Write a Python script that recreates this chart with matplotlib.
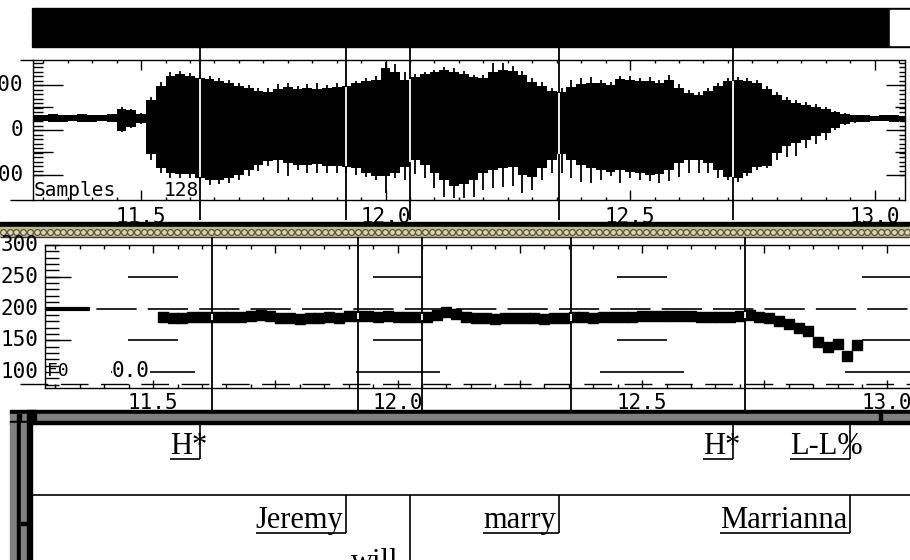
import matplotlib
matplotlib.use("Agg")
import matplotlib.pyplot as plt
import numpy as np
from matplotlib.patches import Rectangle
from matplotlib.ticker import MultipleLocator, FormatStrFormatter, FuncFormatter

plt.rcParams["font.family"] = ["DejaVu Sans Mono"]
plt.rcParams["lines.scale_dashes"] = False

# waveform envelope, one value every 20 ms from 11.28 s
# (peak = tip of the pulses, body = solid part; units above / below the zero line)
wave_t0 = 11.28
wave_step = 0.02
env_top = [3, 3, 4, 3, 3, 4, 3, 3, 4,
           11, 9, 5,
           21, 36, 46, 47, 45, 43, 42, 40, 38, 35,
           33, 30, 30, 34, 35, 32, 34, 35, 33, 35,
           35, 37, 40, 42, 56, 54, 46, 44, 46, 48,
           51, 50, 47, 43, 43, 55, 55, 52, 47, 40,
           36, 30, 30, 38, 40, 41, 38, 36, 42, 42,
           40, 41, 38, 43, 34, 28, 26, 30, 35, 40,
           41, 40, 38, 32, 26, 21, 18, 16, 14, 11,
           7, 5, 3, 3, 2, 3, 3, 2]
env_top_body = [3, 3, 4, 3, 3, 4, 3, 3, 4,
                9, 8, 4,
                18, 32, 42, 44, 42, 40, 39, 37, 35, 32,
                30, 27, 26, 29, 31, 29, 30, 29, 30, 31,
                32, 35, 37, 38, 50, 46, 38, 41, 44, 46,
                48, 46, 44, 41, 40, 46, 48, 47, 43, 36,
                32, 27, 26, 31, 34, 35, 35, 33, 39, 38,
                37, 37, 35, 38, 30, 25, 23, 27, 32, 37,
                38, 37, 35, 29, 23, 18, 15, 13, 11, 9,
                6, 4, 3, 3, 2, 3, 3, 2]
env_bot = [4, 3, 4, 4, 3, 4, 4, 3, 4,
           14, 10, 6,
           42, 55, 60, 60, 60, 64, 67, 66, 65, 62,
           58, 53, 48, 55, 58, 52, 55, 55, 55, 55,
           55, 57, 59, 62, 75, 60, 62, 56, 60, 70,
           79, 80, 80, 79, 72, 70, 69, 68, 75, 72,
           62, 55, 55, 60, 64, 65, 62, 58, 65, 60,
           62, 63, 65, 63, 59, 55, 55, 55, 60, 62,
           64, 58, 52, 50, 42, 39, 38, 30, 26, 22,
           12, 7, 5, 4, 3, 3, 4, 3]
env_bot_body = [4, 3, 4, 4, 3, 4, 4, 3, 4,
                13, 9, 5,
                36, 50, 55, 56, 56, 60, 62, 62, 60, 57,
                52, 47, 43, 42, 45, 47, 47, 46, 48, 48,
                49, 50, 55, 58, 58, 55, 49, 42, 47, 55,
                62, 68, 66, 62, 55, 52, 50, 49, 57, 59,
                50, 42, 36, 42, 47, 50, 52, 54, 52, 54,
                55, 57, 56, 52, 45, 42, 42, 45, 52, 59,
                60, 55, 49, 48, 35, 28, 25, 22, 18, 15,
                10, 6, 4, 4, 3, 3, 4, 3]
amp_ticks = [33, -12, -57]
amp_labels = ["1000", "0", "-1000"]

# pitch track in Hz, one frame every 20 ms from 11.52 s
f0_t0 = 11.52
f0_step = 0.02
f0_hz = [186, 185, 185, 186, 187, 187, 186, 187, 187, 188,
         190, 189,
         185, 185, 184, 185, 185, 186, 185,
         188, 188, 188, 187, 188,
         187, 187, 186, 187, 190,
         194, 192,
         186, 185, 185, 184, 185, 185, 185, 185, 184, 185, 185, 186, 186, 185,
         187, 187, 187, 186,
         188, 188, 189, 188, 188, 188,
         187, 187, 187, 187,
         189, 190,
         187, 185,
         181, 175, 169, 164, 147, 139, 145, 125, 142]
f0_labels = [100, 150, 200, 250, 300]

# ToBI transcription
tone_times = [11.62, 12.71, 12.95]
tone_labels = ["H*", "H*", "L-L%"]
word_times = [11.92, 12.05, 12.355, 12.95]
word_labels = ["Jeremy", "will", "marry", "Marrianna"]
word_rows = [0, 1, 0, 0]
cursor_times = [11.62, 11.92, 12.05, 12.355, 12.71]
time_labels = [11.5, 12.0, 12.5, 13.0]

W, H = 910, 560
PX_PER_S = 489.0
T_LEFT = 11.279
SERIF = ["Liberation Serif", "DejaVu Serif"]
GRAY = "#808080"

fig = plt.figure(figsize=(W / 100, H / 100), dpi=100)


def panel(x0, y0, x1, y1):
    return fig.add_axes([x0 / W, 1 - y1 / H, (x1 - x0) / W, (y1 - y0) / H])


def side_ticks(ax, ys, length, side="left", lw=1.0):
    w = ax.get_position().width * W
    f = length / w
    x0, x1 = (0, f) if side == "left" else (1 - f, 1)
    ax.hlines(ys, x0, x1, transform=ax.get_yaxis_transform(), color="k",
              lw=lw, clip_on=False)


# window furniture
bg = fig.add_axes([0, 0, 1, 1])
bg.set_xlim(0, W)
bg.set_ylim(H, 0)
bg.axis("off")
bg.add_patch(Rectangle((32, 8), 880, 39, color="black"))
bg.add_patch(Rectangle((890, 10), 22, 35, color="white"))
bg.hlines(60, 20, 33, color="k", lw=1)
bg.hlines(200, 10, 33, color="k", lw=1)
# separator between waveform and pitch windows
bg.add_patch(Rectangle((0, 222), W, 5, color="black"))
bg.add_patch(Rectangle((0, 227), W, 9, color="#c2b991"))
bg.plot(np.arange(3, W, 6.7), np.full(len(np.arange(3, W, 6.7)), 231.5), "o",
        ms=4.2, mfc="#ddd6ba", mec="#5c563a", mew=0.9)
bg.hlines(236.5, 0, W, color="#3a3a3a", lw=1)
# label window frame
bg.add_patch(Rectangle((10, 410), 900, 4, color="black"))
bg.add_patch(Rectangle((10, 414), 900, 7, color=GRAY))
bg.add_patch(Rectangle((10, 421), 900, 2.5, color="black"))
bg.add_patch(Rectangle((32, 410), 4, 13, color="black"))
bg.add_patch(Rectangle((879, 410), 3, 13, color="black"))
bg.add_patch(Rectangle((10, 423), 7, 137, color=GRAY))
bg.add_patch(Rectangle((17, 414), 4, 146, color="black"))
bg.add_patch(Rectangle((21, 423), 6, 137, color=GRAY))
bg.add_patch(Rectangle((21, 522), 6, 3, color="black"))
bg.add_patch(Rectangle((27, 410), 5, 150, color="black"))
bg.text(34, 196, "Samples", fontsize=14, va="baseline", ha="left")
bg.text(199, 196, "128", fontsize=14, va="baseline", ha="right")

# waveform
aw = panel(33, 60, 905, 200)
aw.patch.set_alpha(0)
aw.set_xlim(T_LEFT, T_LEFT + 872 / PX_PER_S)
aw.set_ylim(-82, 58)
wt = wave_t0 + wave_step * np.arange(len(env_top))
aw.fill_between(wt, -np.array(env_bot_body), env_top_body, step="mid",
                color="black", lw=0)
aw.vlines(wt, -np.array(env_bot), env_top, color="black", lw=1.3)
aw.xaxis.set_major_locator(MultipleLocator(0.5))
aw.xaxis.set_minor_locator(MultipleLocator(0.05))
aw.xaxis.set_major_formatter(FormatStrFormatter("%.1f"))
aw.tick_params(axis="x", which="both", direction="in", top=True, bottom=True,
               width=1, labelsize=15, pad=5)
aw.tick_params(axis="x", which="major", length=7)
aw.tick_params(axis="x", which="minor", length=2.5)
aw.set_yticks([])
for s in aw.spines.values():
    s.set_linewidth(1.0)
side_ticks(aw, np.arange(-57, 57, 4.5), 10)
side_ticks(aw, [11, -34], 20)
side_ticks(aw, amp_ticks, 30)
side_ticks(aw, np.arange(-57, 57, 4.5), 6, "right")
side_ticks(aw, [11, -34], 10, "right")
side_ticks(aw, amp_ticks, 19, "right")
for y, lab in zip(amp_ticks, amp_labels):
    aw.text(-10 / 872, y, lab, transform=aw.get_yaxis_transform(), ha="right",
            va="center", fontsize=15)
aw.vlines(cursor_times, -20 / 140, 153 / 140, transform=aw.get_xaxis_transform(),
          color="k", lw=1.3, clip_on=False)
aw.vlines(cursor_times, -np.interp(cursor_times, wt, env_bot_body) + 1,
          np.interp(cursor_times, wt, env_top_body) - 1, color="white", lw=1.3)

# pitch track
af = panel(45, 245, 917, 388)
af.patch.set_alpha(0)
af.set_xlim(T_LEFT, T_LEFT + 872 / PX_PER_S)
af.set_ylim(75, 300)
af.spines["right"].set_visible(False)
for s in af.spines.values():
    s.set_linewidth(1.0)
af.xaxis.set_major_locator(MultipleLocator(0.25))
af.xaxis.set_minor_locator(MultipleLocator(0.05))
af.xaxis.set_major_formatter(
    FuncFormatter(lambda v, p: f"{v:.1f}" if abs(v * 2 - round(v * 2)) < 1e-6 else ""))
af.tick_params(axis="x", which="both", direction="in", top=True, bottom=True,
               width=1, labelsize=15, pad=3.5)
af.tick_params(axis="x", which="major", length=6)
af.tick_params(axis="x", which="minor", length=3)
af.set_yticks([])
side_ticks(af, np.arange(80, 301, 10), 14)
side_ticks(af, [150, 250], 26)
for hz in f0_labels:
    af.text(-7 / 872, hz, str(hz), transform=af.get_yaxis_transform(), ha="right",
            va="center", fontsize=15)
af.axhline(200, color="k", lw=1.2, ls=(0, (29, 8)))
af.axhline(200, xmin=0, xmax=43 / 872, color="k", lw=3)
af.axhline(81, xmin=-25 / 872, xmax=1, color="k", lw=1, ls=(0, (20, 9)), clip_on=False)
for t in time_labels:
    af.hlines([250, 150], t - 0.051, t + 0.051, color="k", lw=1.2)
    af.hlines(100, t - 0.086, t + 0.086, color="k", lw=1.2)
af.text(11.416, 101, "0.0", ha="left", va="center", fontsize=15,
        bbox=dict(facecolor="white", edgecolor="none", pad=0))
af.text(T_LEFT + 2 / PX_PER_S, 101, "F0", ha="left", va="center", fontsize=13)
ft = f0_t0 + f0_step * np.arange(len(f0_hz))
af.plot(ft, f0_hz, "s", ms=6.5, color="black", mec="black")
af.vlines(cursor_times, -22 / 143, 151 / 143, transform=af.get_xaxis_transform(),
          color="k", lw=1.3, clip_on=False)
af.vlines(cursor_times, np.interp(cursor_times, ft, f0_hz) - 5,
          np.interp(cursor_times, ft, f0_hz) + 5, color="white", lw=1.3)

# label tiers
at = panel(32, 424, 910, 560)
at.patch.set_alpha(0)
at.set_xlim(T_LEFT - 1 / PX_PER_S, T_LEFT + 877 / PX_PER_S)
at.set_ylim(136, 0)
at.axis("off")
at.axhline(71, color="k", lw=1.2)

fig.canvas.draw()
rend = fig.canvas.get_renderer()
inv = at.transData.inverted()


def tier_label(t, label, base, under, top, centre_last, gap=-3):
    if centre_last:
        probe = at.text(0, 0, label[-1], fontsize=22, family=SERIF)
        shift = probe.get_window_extent(rend).width / 2
        probe.remove()
    else:
        shift = gap
    xd = at.transData.transform((t, base))[0] + shift
    txt = at.text(inv.transform((xd, 0))[0], base, label, ha="right",
                  va="baseline", fontsize=22, family=SERIF, clip_on=True)
    left = inv.transform((txt.get_window_extent(rend).x0, 0))[0]
    at.hlines(under, left, t, color="k", lw=1.2)
    at.vlines(t, top, under, color="k", lw=1.2)


for t, lab in zip(tone_times, tone_labels):
    tier_label(t, lab, 30, 35, 0, True)
for t, lab, row in zip(word_times, word_labels, word_rows):
    tier_label(t, lab, 104 + 42 * row, 109 + 42 * row, 71, False, -3 - 9 * row)

fig.savefig("out.png", dpi=100)
